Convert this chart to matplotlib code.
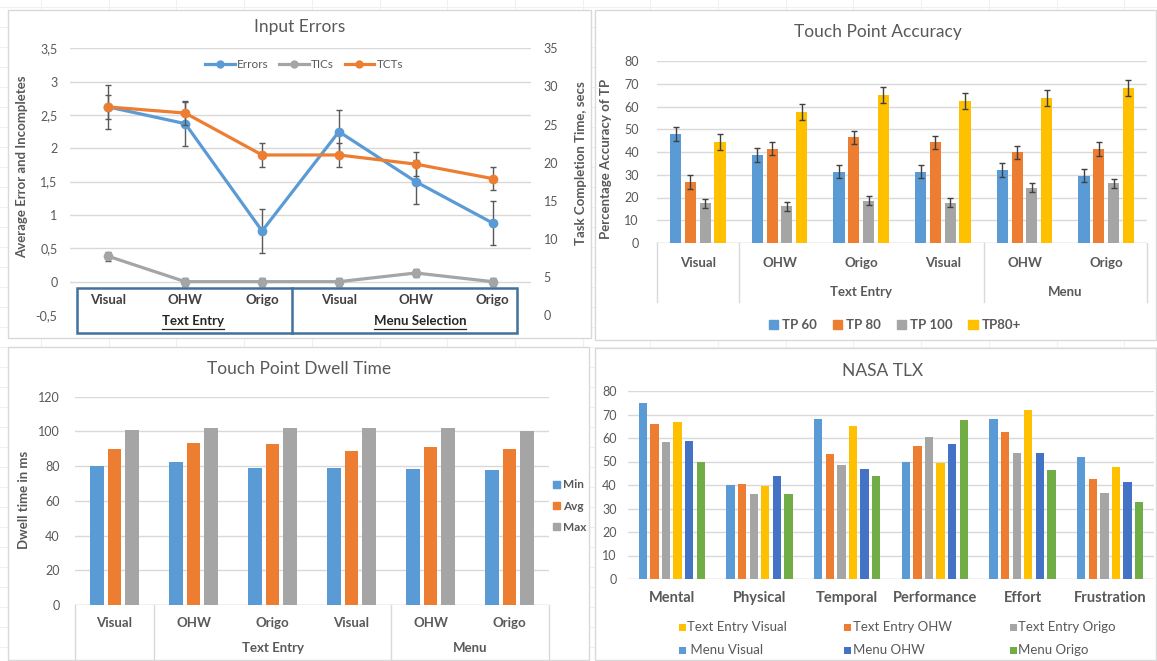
import numpy as np
import matplotlib.pyplot as plt
import matplotlib.transforms as mtransforms
from matplotlib.lines import Line2D
from matplotlib.patches import Rectangle, Patch

plt.rcParams['font.family'] = ['Lato', 'DejaVu Sans']

W, H = 1157, 661
TXT = '#595959'
GRID = '#D9D9D9'
BLUE, ORANGE, GRAY, GOLD = '#5B9BD5', '#ED7D31', '#A5A5A5', '#FFC000'
DBLUE, GREEN = '#4472C4', '#70AD47'

# --- Input Errors ---
conditions = ['Visual', 'OHW', 'Origo', 'Visual', 'OHW', 'Origo']
errors = [2.62, 2.37, 0.76, 2.25, 1.50, 0.88]
errors_sd = [0.33, 0.33, 0.33, 0.33, 0.33, 0.33]
tics = [0.38, 0.0, 0.0, 0.0, 0.13, 0.0]
tics_sd = [0.065, 0.06, 0.06, 0.06, 0.065, 0.06]
tcts = [27.3, 26.5, 21.0, 21.0, 19.8, 17.9]
tcts_sd = [1.55, 1.55, 1.55, 1.55, 1.55, 1.55]

# --- Touch Point Accuracy ---
tp_series = ['TP 60', 'TP 80', 'TP 100', 'TP80+']
tp60 = [47.9, 38.6, 31.4, 31.4, 32.0, 29.6]
tp80 = [26.8, 41.5, 46.4, 44.2, 39.8, 41.4]
tp100 = [17.4, 16.2, 18.6, 17.7, 24.3, 26.2]
tp80plus = [44.2, 57.7, 65.1, 62.3, 63.9, 68.0]
tp_sd = [3.0, 3.0, 2.0, 3.5]

# --- Touch Point Dwell Time ---
dwell_series = ['Min', 'Avg', 'Max']
dwell_min = [80.1, 82.4, 79.1, 78.7, 78.1, 77.6]
dwell_avg = [89.9, 93.5, 92.7, 88.9, 91.0, 89.9]
dwell_max = [100.8, 101.8, 102.1, 101.8, 102.1, 100.4]

# --- NASA TLX ---
tlx_dims = ['Mental', 'Physical', 'Temporal', 'Performance', 'Effort', 'Frustration']
menu_visual = [75.0, 39.9, 68.1, 50.0, 68.1, 51.8]
te_ohw = [66.1, 40.6, 53.1, 56.4, 62.4, 42.6]
te_origo = [58.1, 36.2, 48.6, 60.6, 53.8, 36.8]
te_visual = [66.8, 39.4, 65.0, 49.3, 71.9, 47.6]
menu_ohw = [58.8, 43.8, 46.9, 57.5, 53.8, 41.2]
menu_origo = [50.0, 36.2, 43.8, 67.5, 46.3, 32.6]


def rect(x0, y0, x1, y1):
    return [x0 / W, 1 - y1 / H, (x1 - x0) / W, (y1 - y0) / H]


def fx(x):
    return x / W


def fy(y):
    return 1 - y / H


fig = plt.figure(figsize=(W / 100, H / 100), dpi=100)
fig.patch.set_facecolor('white')

# faint spreadsheet cells behind the charts
for gx in np.arange(41, W, 67.7):
    fig.add_artist(Line2D([fx(gx)] * 2, [0, 1], color='#F0F0F0', lw=0.8, zorder=-3))
for gy in np.arange(7, H, 20):
    fig.add_artist(Line2D([0, 1], [fy(gy)] * 2, color='#F0F0F0', lw=0.8, zorder=-3))

# chart frames
for x0, y0, x1, y1 in [(8, 10, 591, 338), (595, 10, 1156, 340), (8, 347, 589, 660), (595, 348, 1156, 660)]:
    fig.add_artist(Rectangle((fx(x0), fy(y1)), (x1 - x0) / W, (y1 - y0) / H,
                             transform=fig.transFigure, facecolor='white', edgecolor=GRID,
                             lw=1, zorder=-2))


def style(ax, ylim, ticks, pad, fmt=None):
    ax.set_facecolor('none')
    ax.set_ylim(*ylim)
    ax.set_xlim(-0.5, 5.5)
    for s in ax.spines.values():
        s.set_visible(False)
    ax.set_yticks(ticks)
    if fmt:
        ax.set_yticklabels([fmt(t) for t in ticks])
    ax.tick_params(length=0, labelsize=9, labelcolor=TXT, pad=pad)
    ax.set_xticks([])
    for t in ticks:
        ax.axhline(t, color=GRID, lw=1, zorder=0)


def comma(v):
    return ('%g' % v).replace('.', ',')


x = np.arange(6)

# ===================== Input Errors =====================
ax1 = fig.add_axes(rect(70, 48.3, 531, 315))
style(ax1, (-0.5, 3.5), np.arange(0, 3.6, 0.5), 9, comma)
ax1.set_yticks(np.arange(-0.5, 3.6, 0.5))
ax1.set_yticklabels([comma(t) for t in np.arange(-0.5, 3.6, 0.5)])
ax1.errorbar(x, errors, yerr=errors_sd, color=BLUE, lw=2.3, marker='o', ms=6,
             ecolor='#595959', elinewidth=1, capsize=2.5, zorder=3)
ax1.errorbar(x, tics, yerr=tics_sd, color=GRAY, lw=2.3, marker='o', ms=6,
             ecolor='#595959', elinewidth=1, capsize=2.5, zorder=3)
ax1b = ax1.twinx()
ax1b.set_ylim(0, 35)
ax1b.set_yticks(np.arange(0, 36, 5))
for s in ax1b.spines.values():
    s.set_visible(False)
ax1b.tick_params(length=0, labelsize=9, labelcolor=TXT, pad=9)
ax1b.errorbar(x, tcts, yerr=tcts_sd, color=ORANGE, lw=2.3, marker='o', ms=6,
              ecolor='#595959', elinewidth=1, capsize=2.5, zorder=3)

fig.text(fx(300), fy(27), 'Input Errors', ha='center', va='center', fontsize=12.5, color=TXT)
fig.text(fx(22), fy(167), 'Average Error and Incompletes', rotation=90, ha='center',
         va='center', fontsize=9.5, fontweight='bold', color=TXT)
fig.text(fx(581), fy(163), 'Task Completion Time, secs', rotation=90, ha='center',
         va='center', fontsize=9.5, fontweight='bold', color=TXT)
h1 = [Line2D([], [], color=c, lw=2.3, marker='o', ms=5) for c in (BLUE, GRAY, ORANGE)]
fig.legend(h1, ['Errors', 'TICs', 'TCTs'], loc='center', bbox_to_anchor=(fx(304), fy(65)),
           ncol=3, frameon=False, fontsize=8.5, labelcolor=TXT, handlelength=2.5,
           handletextpad=0.2, columnspacing=0.9)

# category table under the line chart
fig.add_artist(Rectangle((fx(77), fy(333)), (517 - 77) / W, 45 / H, transform=fig.transFigure,
                         facecolor='white', edgecolor='#41719C', lw=1.8, zorder=5))
fig.add_artist(Line2D([fx(292)] * 2, [fy(288), fy(333)], color='#41719C', lw=1.8, zorder=6))
bt1 = mtransforms.blended_transform_factory(ax1.transData, fig.transFigure)
for i, c in enumerate(conditions):
    fig.text(i, fy(300), c, transform=bt1, ha='center', va='center', fontsize=9.5,
             fontweight='bold', color='#404040', zorder=7)
for label, cx in [('Text Entry', fx(193)), ('Menu Selection', fx(420))]:
    t = fig.text(cx, fy(321), label, ha='center', va='center', fontsize=9.5,
                 fontweight='bold', color='#262626', zorder=7)
    fig.canvas.draw()
    bb = t.get_window_extent().transformed(fig.transFigure.inverted())
    fig.add_artist(Line2D([bb.x0, bb.x1], [fy(328.5)] * 2, color='#262626', lw=0.9, zorder=7))


def category_table(ax, groups, sep, y_lab, y_grp, y_bottom, size):
    bt = mtransforms.blended_transform_factory(ax.transData, fig.transFigure)
    ax.axhline(0, color=GRID, lw=1, zorder=1)
    for i, c in enumerate(conditions):
        ax.text(i, fy(y_lab), c, transform=bt, ha='center', va='center', fontsize=size,
                fontweight='bold', color=TXT)
    for label, cx in groups:
        ax.text(cx, fy(y_grp), label, transform=bt, ha='center', va='center',
                fontsize=size, fontweight='bold', color=TXT)
    y0 = ax.get_position().y0
    for s in sep:
        ax.add_artist(Line2D([s, s], [y0, fy(y_bottom)], transform=bt, color=GRID, lw=1,
                             clip_on=False))


# ===================== Touch Point Accuracy =====================
ax2 = fig.add_axes(rect(657, 61, 1147, 243))
style(ax2, (0, 80), np.arange(0, 81, 10), 13)
tp_vals = [tp60, tp80, tp100, tp80plus]
tp_cols = [BLUE, ORANGE, GRAY, GOLD]
for k in range(4):
    xs = x + (k - 1.5) * 0.181
    ax2.bar(xs, tp_vals[k], width=0.137, color=tp_cols[k], zorder=2)
    ax2.errorbar(xs, tp_vals[k], yerr=tp_sd[k], fmt='none', ecolor='#404040',
                 elinewidth=1, capsize=2.2, zorder=3)
category_table(ax2, [('Text Entry', 2), ('Menu', 4.5)], [-0.5, 0.5, 3.5, 5.5], 263, 292, 302, 9.5)
fig.text(fx(878), fy(32), 'Touch Point Accuracy', ha='center', va='center', fontsize=12.5, color=TXT)
fig.text(fx(606), fy(159), 'Percentage Accuracy of TP', rotation=90, ha='center', va='center',
         fontsize=9.5, fontweight='bold', color=TXT)
h2 = [Patch(color=c) for c in tp_cols]
fig.legend(h2, tp_series, loc='center', bbox_to_anchor=(fx(895), fy(325)), ncol=4,
           frameon=False, handlelength=0.7, handleheight=0.7, handletextpad=0.3,
           columnspacing=1.2, prop={'size': 9.5, 'weight': 'bold'}, labelcolor=TXT)

# ===================== Touch Point Dwell Time =====================
ax3 = fig.add_axes(rect(75, 396.7, 549, 605))
style(ax3, (0, 120), np.arange(0, 121, 20), 11)
dwell_vals = [dwell_min, dwell_avg, dwell_max]
dwell_cols = [BLUE, ORANGE, GRAY]
for k in range(3):
    ax3.bar(x + (k - 1) * 0.221, dwell_vals[k], width=0.167, color=dwell_cols[k], zorder=2)
category_table(ax3, [('Text Entry', 2), ('Menu', 4.5)], [-0.5, 0.5, 3.5, 5.5], 623, 648, 661, 9.5)
fig.text(fx(299), fy(369), 'Touch Point Dwell Time', ha='center', va='center', fontsize=12.5, color=TXT)
fig.text(fx(24), fy(500), 'Dwell time in ms', rotation=90, ha='center', va='center',
         fontsize=9.5, fontweight='bold', color=TXT)
h3 = [Patch(color=c) for c in dwell_cols]
fig.legend(h3, dwell_series, loc='center left', bbox_to_anchor=(fx(542), fy(506)), ncol=1,
           frameon=False, handlelength=0.6, handleheight=0.6, handletextpad=0.3,
           labelspacing=0.85, prop={'size': 8.5, 'weight': 'bold'}, labelcolor=TXT)

# ===================== NASA TLX =====================
ax4 = fig.add_axes(rect(628, 391, 1154, 579))
style(ax4, (0, 80), np.arange(0, 81, 10), 8)
ax4.axhline(0, color=GRID, lw=1, zorder=1)
tlx_vals = [menu_visual, te_ohw, te_origo, te_visual, menu_ohw, menu_origo]
tlx_cols = [BLUE, ORANGE, GRAY, GOLD, DBLUE, GREEN]
for k in range(6):
    ax4.bar(x + (k - 2.5) * 0.132, tlx_vals[k], width=0.095, color=tlx_cols[k], zorder=2)
bt4 = mtransforms.blended_transform_factory(ax4.transData, fig.transFigure)
for i, d in enumerate(tlx_dims):
    ax4.text(i, fy(598), d, transform=bt4, ha='center', va='center', fontsize=10.5,
             fontweight='bold', color=TXT)
fig.text(fx(883), fy(371), 'NASA TLX', ha='center', va='center', fontsize=12.5, color=TXT)
tlx_legend = [('Text Entry Visual', GOLD, 682, 627), ('Text Entry OHW', ORANGE, 848, 627),
              ('Text Entry Origo', GRAY, 1013, 627), (' Menu Visual', BLUE, 682, 650),
              ('Menu OHW', DBLUE, 848, 650), ('Menu Origo', GREEN, 1013, 650)]
for label, c, lx, ly in tlx_legend:
    fig.add_artist(Rectangle((fx(lx - 3.5), fy(ly + 3.5)), 7 / W, 7 / H, transform=fig.transFigure,
                             facecolor=c, edgecolor='none'))
    fig.text(fx(lx + 5), fy(ly), label, ha='left', va='center', fontsize=9.5, color=TXT)

fig.savefig('out.png', dpi=100)
